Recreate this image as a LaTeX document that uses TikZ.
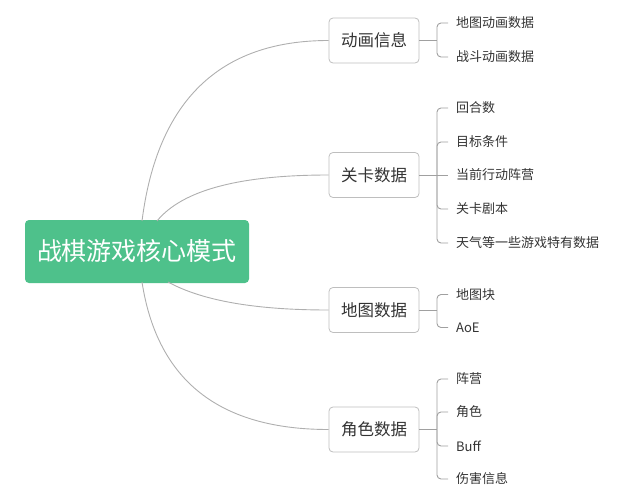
\documentclass[tikz,border=0pt]{standalone}
\usepackage{fontspec}
\setmainfont{Noto Sans CJK SC}
\definecolor{rootgreen}{RGB}{78,193,139}
\definecolor{curvegray}{RGB}{175,175,175}
\definecolor{brgray}{RGB}{160,160,160}
\definecolor{boxgray}{RGB}{190,190,190}
\definecolor{txt}{RGB}{51,51,51}
\begin{document}
\begin{tikzpicture}[x=1pt,y=-1pt,
  rootbox/.style={fill=rootgreen,rounded corners=4pt,minimum width=224pt,minimum height=63pt,text=white,font=\fontsize{25}{29}\selectfont,inner sep=0pt},
  branchbox/.style={draw=boxgray,line width=0.8pt,rounded corners=4pt,minimum width=90pt,minimum height=45pt,text=txt,font=\fontsize{16.5}{19}\selectfont,inner sep=0pt},
  leaf/.style={anchor=west,inner xsep=0pt,inner ysep=2pt,text=txt,font=\fontsize{13}{15}\selectfont},
  curve/.style={draw=curvegray,line width=0.9pt},
  bracket/.style={draw=brgray,line width=0.9pt,rounded corners=4pt}
]
\useasboundingbox (0,0) rectangle (619,498);

\node[rootbox] (root) at (137,251.5) {战棋游戏核心模式};

\node[branchbox] (b1) at (374,40.5) {动画信息};
\node[branchbox] (b2) at (374,175) {关卡数据};
\node[branchbox] (b3) at (374,310) {地图数据};
\node[branchbox] (b4) at (374,429.5) {角色数据};

\coordinate (s1) at (142,221);
\coordinate (s2) at (157,221);
\coordinate (s3) at (168,282);
\coordinate (s4) at (142,282);

\draw[curve] (s1) .. controls (157.3,100.7) and (219.7,40.5) .. (b1.west);
\draw[curve] (s2) .. controls (182.3,190) and (239.7,175) .. (b2.west);
\draw[curve] (s3) .. controls (202.7,301) and (256.3,310) .. (b3.west);
\draw[curve] (s4) .. controls (157.3,381) and (219.7,429.5) .. (b4.west);

% leaves
\node[leaf] (l11) at (456,23) {地图动画数据};
\node[leaf] (l12) at (456,57) {战斗动画数据};

\node[leaf] (l21) at (456,108) {回合数};
\node[leaf] (l22) at (456,142) {目标条件};
\node[leaf] (l23) at (456,175) {当前行动阵营};
\node[leaf] (l24) at (456,209) {关卡剧本};
\node[leaf] (l25) at (456,243) {天气等一些游戏特有数据};

\node[leaf] (l31) at (456,294.5) {地图块};
\node[leaf] (l32) at (456,327.5) {AoE};

\node[leaf] (l41) at (456,379) {阵营};
\node[leaf] (l42) at (456,412) {角色};
\node[leaf] (l43) at (456,446) {Buff};
\node[leaf] (l44) at (456,479) {伤害信息};

% bracket junctions
\coordinate (j1) at (437,40.5);
\coordinate (j2) at (437,175);
\coordinate (j3) at (437,310);
\coordinate (j4) at (437,429.5);

\draw[bracket] (b1.east) -- (j1);
\draw[bracket] (j1) |- ([xshift=-8pt]l11.west);
\draw[bracket] (j1) |- ([xshift=-8pt]l12.west);

\draw[bracket] (b2.east) -- (j2);
\draw[bracket] (j2) |- ([xshift=-8pt]l21.west);
\draw[bracket] (j2) |- ([xshift=-8pt]l22.west);
\draw[bracket] (j2) -- ([xshift=-8pt]l23.west);
\draw[bracket] (j2) |- ([xshift=-8pt]l24.west);
\draw[bracket] (j2) |- ([xshift=-8pt]l25.west);

\draw[bracket] (b3.east) -- (j3);
\draw[bracket] (j3) |- ([xshift=-8pt]l31.west);
\draw[bracket] (j3) |- ([xshift=-8pt]l32.west);

\draw[bracket] (b4.east) -- (j4);
\draw[bracket] (j4) |- ([xshift=-8pt]l41.west);
\draw[bracket] (j4) |- ([xshift=-8pt]l42.west);
\draw[bracket] (j4) |- ([xshift=-8pt]l43.west);
\draw[bracket] (j4) |- ([xshift=-8pt]l44.west);
\end{tikzpicture}
\end{document}
